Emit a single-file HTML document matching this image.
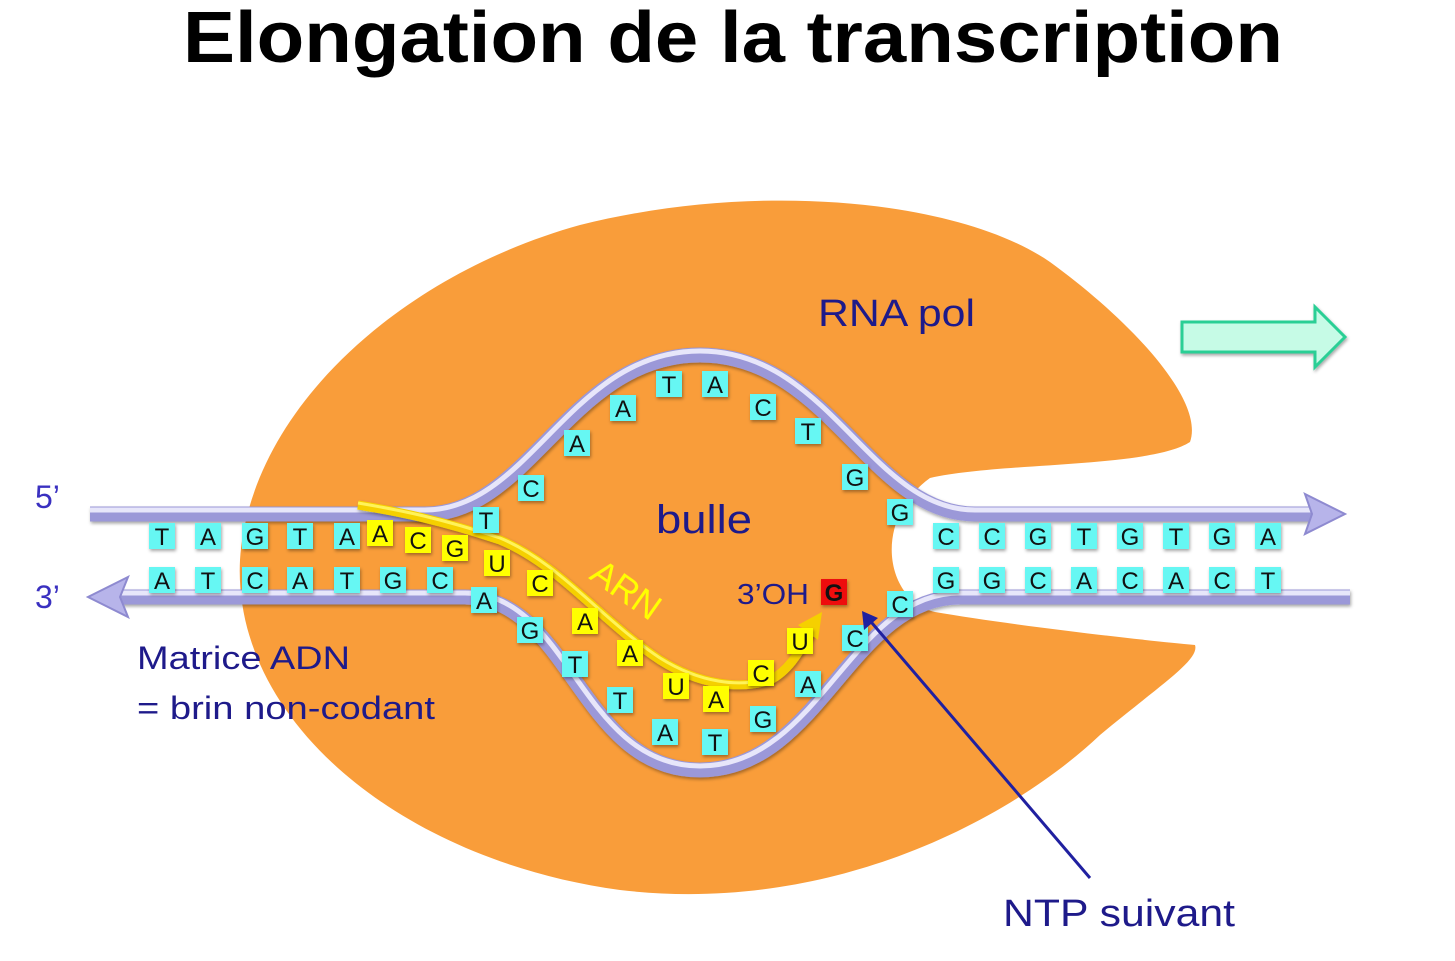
<!DOCTYPE html>
<html><head><meta charset="utf-8"><style>
html,body{margin:0;padding:0;background:#fff;width:1455px;height:961px;overflow:hidden}
svg{display:block}
text{font-family:"Liberation Sans","DejaVu Sans",sans-serif}
</style></head><body>
<svg width="1455" height="961" viewBox="0 0 1455 961" xmlns="http://www.w3.org/2000/svg">
<defs>
<filter id="sh" x="-20%" y="-20%" width="140%" height="140%"><feDropShadow dx="1" dy="2" stdDeviation="1.5" flood-color="#000" flood-opacity="0.35"/></filter>
</defs>
<text x="183" y="62" font-size="72" font-weight="bold" fill="#000" textLength="1100" lengthAdjust="spacingAndGlyphs">Elongation de la transcription</text>

<path d="M1190,442 C1205,400 1130,320 1050,262 C960,200 760,180 580,225 C400,275 250,410 240,560 C232,720 400,860 620,890 C830,915 1010,820 1100,735 C1160,685 1200,660 1195,645 C1140,640 1010,625 935,612 C885,600 872,520 930,478 C1000,462 1150,468 1190,442 Z" fill="#f99d3a"/>

<path d="M1182,322 L1315,322 L1315,307 L1345,337 L1315,367 L1315,352 L1182,352 Z" fill="#c6fbe6" stroke="#2ccf95" stroke-width="3" filter="url(#sh)"/>

<g fill="none" stroke-linecap="butt">
<path d="M90,514 L425,514 C530,514 570,355 700,355 C830,355 870,514 975,514 L1312,514" stroke="#9b98d8" stroke-width="15" filter="url(#sh)"/>
<path d="M90,510 L425,510 C530,510 570,351 700,351 C830,351 870,510 975,510 L1312,510" stroke="#e7e6fa" stroke-width="5"/>
<path d="M120,597 L465,597 C570,597 580,770 700,770 C820,770 850,597 960,597 L1350,597" stroke="#9b98d8" stroke-width="15" filter="url(#sh)"/>
<path d="M120,593 L465,593 C570,593 580,766 700,766 C820,766 850,593 960,593 L1350,593" stroke="#e7e6fa" stroke-width="5"/>
</g>
<path d="M1305,494 L1345,514 L1305,534 L1312,514 Z" fill="#b7b4ea" stroke="#8e8ad0" stroke-width="2"/>
<path d="M128,577 L88,597 L128,617 L120,597 Z" fill="#b7b4ea" stroke="#8e8ad0" stroke-width="2"/>

<path d="M358,505 C400,512 440,520 500,540 C560,565 600,620 660,660 C700,685 740,690 770,680 C790,670 800,650 812,630" fill="none" stroke="#f5d000" stroke-width="9" filter="url(#sh)"/>
<path d="M358,503 C400,510 440,518 500,538 C560,563 600,618 660,658 C700,683 740,688 770,678" fill="none" stroke="#fff35a" stroke-width="3"/>
<path d="M798,625 L822,612 L818,640 Z" fill="#f5d000"/>

<g filter="url(#sh)">
<g fill="#66f7f3">
<rect x="149" y="523" width="26" height="26"/><rect x="195" y="523" width="26" height="26"/><rect x="242" y="523" width="26" height="26"/><rect x="287" y="523" width="26" height="26"/><rect x="334" y="523" width="26" height="26"/>
<rect x="933" y="523" width="26" height="26"/><rect x="979" y="523" width="26" height="26"/><rect x="1025" y="523" width="26" height="26"/><rect x="1071" y="523" width="26" height="26"/><rect x="1117" y="523" width="26" height="26"/><rect x="1163" y="523" width="26" height="26"/><rect x="1209" y="523" width="26" height="26"/><rect x="1255" y="523" width="26" height="26"/>
<rect x="149" y="567" width="26" height="26"/><rect x="195" y="567" width="26" height="26"/><rect x="242" y="567" width="26" height="26"/><rect x="287" y="567" width="26" height="26"/><rect x="334" y="567" width="26" height="26"/><rect x="380" y="567" width="26" height="26"/><rect x="427" y="567" width="26" height="26"/>
<rect x="933" y="567" width="26" height="26"/><rect x="979" y="567" width="26" height="26"/><rect x="1025" y="567" width="26" height="26"/><rect x="1071" y="567" width="26" height="26"/><rect x="1117" y="567" width="26" height="26"/><rect x="1163" y="567" width="26" height="26"/><rect x="1209" y="567" width="26" height="26"/><rect x="1255" y="567" width="26" height="26"/>
<rect x="473" y="507" width="26" height="26"/><rect x="518" y="475" width="26" height="26"/><rect x="564" y="430" width="26" height="26"/><rect x="610" y="395" width="26" height="26"/><rect x="656" y="371" width="26" height="26"/><rect x="702" y="371" width="26" height="26"/><rect x="750" y="394" width="26" height="26"/><rect x="795" y="418" width="26" height="26"/><rect x="842" y="464" width="26" height="26"/><rect x="887" y="499" width="26" height="26"/>
<rect x="887" y="591" width="26" height="26"/><rect x="842" y="625" width="26" height="26"/><rect x="795" y="671" width="26" height="26"/><rect x="750" y="706" width="26" height="26"/><rect x="702" y="729" width="26" height="26"/><rect x="652" y="719" width="26" height="26"/><rect x="607" y="687" width="26" height="26"/><rect x="562" y="651" width="26" height="26"/><rect x="517" y="617" width="26" height="26"/><rect x="471" y="587" width="26" height="26"/>
</g>
<g fill="#ffff00">
<rect x="367" y="520" width="26" height="26"/><rect x="405" y="527" width="26" height="26"/><rect x="442" y="535" width="26" height="26"/><rect x="484" y="550" width="26" height="26"/><rect x="527" y="570" width="26" height="26"/><rect x="572" y="608" width="26" height="26"/><rect x="617" y="640" width="26" height="26"/><rect x="663" y="673" width="26" height="26"/><rect x="703" y="686" width="26" height="26"/><rect x="748" y="660" width="26" height="26"/><rect x="787" y="628" width="26" height="26"/>
</g>
<rect x="821" y="579" width="26" height="26" fill="#ee1010"/>
</g>
<g font-size="24" text-anchor="middle" fill="#111">
<text x="162" y="545">T</text><text x="208" y="545">A</text><text x="255" y="545">G</text><text x="300" y="545">T</text><text x="347" y="545">A</text>
<text x="946" y="545">C</text><text x="992" y="545">C</text><text x="1038" y="545">G</text><text x="1084" y="545">T</text><text x="1130" y="545">G</text><text x="1176" y="545">T</text><text x="1222" y="545">G</text><text x="1268" y="545">A</text>
<text x="162" y="589">A</text><text x="208" y="589">T</text><text x="255" y="589">C</text><text x="300" y="589">A</text><text x="347" y="589">T</text><text x="393" y="589">G</text><text x="440" y="589">C</text>
<text x="946" y="589">G</text><text x="992" y="589">G</text><text x="1038" y="589">C</text><text x="1084" y="589">A</text><text x="1130" y="589">C</text><text x="1176" y="589">A</text><text x="1222" y="589">C</text><text x="1268" y="589">T</text>
<text x="486" y="529">T</text><text x="531" y="497">C</text><text x="577" y="452">A</text><text x="623" y="417">A</text><text x="669" y="393">T</text><text x="715" y="393">A</text><text x="763" y="416">C</text><text x="808" y="440">T</text><text x="855" y="486">G</text><text x="900" y="521">G</text>
<text x="900" y="613">C</text><text x="855" y="647">C</text><text x="808" y="693">A</text><text x="763" y="728">G</text><text x="715" y="751">T</text><text x="665" y="741">A</text><text x="620" y="709">T</text><text x="575" y="673">T</text><text x="530" y="639">G</text><text x="484" y="609">A</text>
<text x="380" y="542">A</text><text x="418" y="549">C</text><text x="455" y="557">G</text><text x="497" y="572">U</text><text x="540" y="592">C</text><text x="585" y="630">A</text><text x="630" y="662">A</text><text x="676" y="695">U</text><text x="716" y="708">A</text><text x="761" y="682">C</text><text x="800" y="650">U</text>
<text x="834" y="601" font-weight="bold">G</text>
</g>

<line x1="1090" y1="878" x2="866" y2="616" stroke="#2020a0" stroke-width="3"/>
<path d="M862,611 L864,630 L878,618 Z" fill="#2020a0"/>

<g fill="#1e1a8a">
<text x="818" y="326" font-size="38" textLength="157" lengthAdjust="spacingAndGlyphs">RNA pol</text>
<text x="656" y="533" font-size="40" textLength="96" lengthAdjust="spacingAndGlyphs">bulle</text>
<text x="737" y="604" font-size="29" textLength="72" lengthAdjust="spacingAndGlyphs">3’OH</text>
<text x="35" y="508" font-size="32" fill="#3a30c0">5’</text>
<text x="35" y="608" font-size="32" fill="#3a30c0">3’</text>
<text x="137" y="669" font-size="32" textLength="213" lengthAdjust="spacingAndGlyphs">Matrice ADN</text>
<text x="137" y="719" font-size="32" textLength="298" lengthAdjust="spacingAndGlyphs">= brin non-codant</text>
<text x="1003" y="926" font-size="38" textLength="232" lengthAdjust="spacingAndGlyphs">NTP suivant</text>
</g>
<text x="0" y="0" font-size="36" fill="#ffff00" transform="translate(588,578) rotate(35)">ARN</text>
</svg>
</body></html>
